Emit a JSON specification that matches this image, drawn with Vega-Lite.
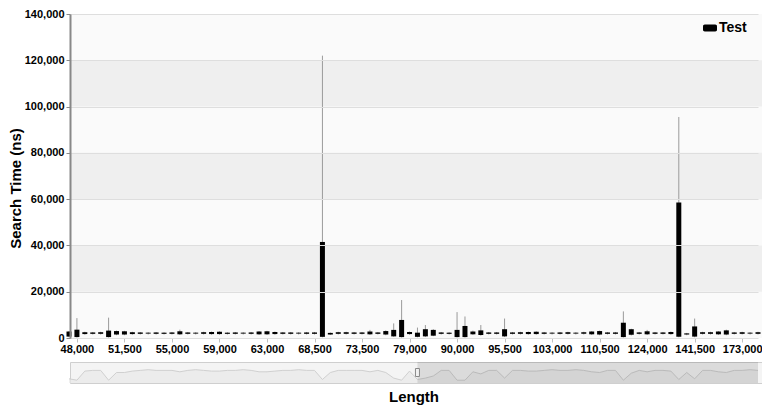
{
  "$schema": "https://vega.github.io/schema/vega-lite/v6.json",
  "background": "white",
  "padding": {"left": 8, "top": 8, "right": 0, "bottom": 0},
  "config": {
    "font": "Liberation Sans",
    "concat": {"spacing": 7}
  },
  "datasets": {
    "candles": [
      {"len": "47,500", "lo": 300, "q1": 600, "q3": 2800, "hi": 3000},
      {"len": "48,000", "lo": 200, "q1": 400, "q3": 3600, "hi": 8600},
      {"len": "48,500", "lo": 1400, "q1": 1700, "q3": 2500, "hi": 2700},
      {"len": "49,000", "lo": 1500, "q1": 1800, "q3": 2400, "hi": 2600},
      {"len": "49,500", "lo": 1500, "q1": 1800, "q3": 2500, "hi": 2700},
      {"len": "50,500", "lo": 200, "q1": 400, "q3": 3200, "hi": 8800},
      {"len": "51,000", "lo": 1200, "q1": 1500, "q3": 3000, "hi": 3200},
      {"len": "51,500", "lo": 1200, "q1": 1500, "q3": 2900, "hi": 3100},
      {"len": "52,000", "lo": 1400, "q1": 1700, "q3": 2500, "hi": 2700},
      {"len": "52,500", "lo": 1500, "q1": 1800, "q3": 2400, "hi": 2600},
      {"len": "53,000", "lo": 1500, "q1": 1900, "q3": 2300, "hi": 2500},
      {"len": "54,000", "lo": 1500, "q1": 1800, "q3": 2400, "hi": 2600},
      {"len": "54,500", "lo": 1500, "q1": 1800, "q3": 2300, "hi": 2500},
      {"len": "55,000", "lo": 1500, "q1": 1800, "q3": 2400, "hi": 2600},
      {"len": "55,500", "lo": 1300, "q1": 1600, "q3": 2900, "hi": 3600},
      {"len": "56,000", "lo": 1500, "q1": 1800, "q3": 2400, "hi": 2600},
      {"len": "57,000", "lo": 1500, "q1": 1900, "q3": 2300, "hi": 2500},
      {"len": "57,500", "lo": 1500, "q1": 1800, "q3": 2500, "hi": 2700},
      {"len": "58,500", "lo": 1400, "q1": 1700, "q3": 2600, "hi": 2800},
      {"len": "59,000", "lo": 1400, "q1": 1700, "q3": 2700, "hi": 2900},
      {"len": "59,500", "lo": 1500, "q1": 1800, "q3": 2300, "hi": 2500},
      {"len": "60,500", "lo": 1500, "q1": 1800, "q3": 2400, "hi": 2600},
      {"len": "61,000", "lo": 1500, "q1": 1900, "q3": 2300, "hi": 2500},
      {"len": "62,000", "lo": 1500, "q1": 1800, "q3": 2400, "hi": 2600},
      {"len": "62,500", "lo": 1300, "q1": 1600, "q3": 2800, "hi": 3000},
      {"len": "63,000", "lo": 1300, "q1": 1600, "q3": 2900, "hi": 3100},
      {"len": "64,000", "lo": 1400, "q1": 1700, "q3": 2600, "hi": 2800},
      {"len": "65,000", "lo": 1500, "q1": 1800, "q3": 2400, "hi": 2600},
      {"len": "66,000", "lo": 1500, "q1": 1800, "q3": 2400, "hi": 2600},
      {"len": "67,000", "lo": 1500, "q1": 1900, "q3": 2300, "hi": 2500},
      {"len": "68,000", "lo": 1500, "q1": 1800, "q3": 2400, "hi": 2600},
      {"len": "68,500", "lo": 1500, "q1": 1800, "q3": 2400, "hi": 2600},
      {"len": "69,500", "lo": 300, "q1": 500, "q3": 41500, "hi": 122000},
      {"len": "70,500", "lo": 1300, "q1": 1500, "q3": 2200, "hi": 2400},
      {"len": "71,500", "lo": 1500, "q1": 1800, "q3": 2500, "hi": 2700},
      {"len": "72,000", "lo": 1500, "q1": 1800, "q3": 2500, "hi": 2700},
      {"len": "73,000", "lo": 1500, "q1": 1800, "q3": 2400, "hi": 2600},
      {"len": "73,500", "lo": 1500, "q1": 1800, "q3": 2400, "hi": 2600},
      {"len": "74,500", "lo": 1300, "q1": 1600, "q3": 2800, "hi": 3500},
      {"len": "75,500", "lo": 1500, "q1": 1800, "q3": 2400, "hi": 2600},
      {"len": "76,500", "lo": 1200, "q1": 1500, "q3": 3000, "hi": 3300},
      {"len": "77,500", "lo": 500, "q1": 700, "q3": 3500, "hi": 6300},
      {"len": "78,500", "lo": 200, "q1": 400, "q3": 7800, "hi": 16400},
      {"len": "79,000", "lo": 1400, "q1": 1700, "q3": 2600, "hi": 2800},
      {"len": "80,500", "lo": 300, "q1": 500, "q3": 2300, "hi": 4500},
      {"len": "82,000", "lo": 400, "q1": 700, "q3": 3800, "hi": 5600},
      {"len": "84,000", "lo": 800, "q1": 1000, "q3": 3500, "hi": 3800},
      {"len": "86,000", "lo": 1500, "q1": 1800, "q3": 2400, "hi": 2600},
      {"len": "88,000", "lo": 1500, "q1": 1800, "q3": 2300, "hi": 2500},
      {"len": "90,000", "lo": 200, "q1": 400, "q3": 3500, "hi": 11200},
      {"len": "91,000", "lo": 200, "q1": 400, "q3": 5200, "hi": 9300},
      {"len": "92,000", "lo": 1300, "q1": 1600, "q3": 2800, "hi": 3200},
      {"len": "93,000", "lo": 1000, "q1": 1300, "q3": 3300, "hi": 5600},
      {"len": "94,000", "lo": 1500, "q1": 1800, "q3": 2400, "hi": 2600},
      {"len": "95,000", "lo": 1500, "q1": 1800, "q3": 2400, "hi": 2600},
      {"len": "95,500", "lo": 400, "q1": 700, "q3": 3800, "hi": 8400},
      {"len": "96,500", "lo": 1500, "q1": 1800, "q3": 2400, "hi": 2600},
      {"len": "98,000", "lo": 1500, "q1": 1800, "q3": 2500, "hi": 2700},
      {"len": "99,500", "lo": 1400, "q1": 1700, "q3": 2600, "hi": 2800},
      {"len": "100,500", "lo": 1400, "q1": 1700, "q3": 2700, "hi": 2900},
      {"len": "102,000", "lo": 1500, "q1": 1800, "q3": 2400, "hi": 2600},
      {"len": "103,000", "lo": 1500, "q1": 1900, "q3": 2300, "hi": 2500},
      {"len": "104,500", "lo": 1500, "q1": 1800, "q3": 2400, "hi": 2600},
      {"len": "106,000", "lo": 1500, "q1": 1800, "q3": 2500, "hi": 2700},
      {"len": "107,500", "lo": 1500, "q1": 1900, "q3": 2300, "hi": 2500},
      {"len": "108,500", "lo": 1500, "q1": 1800, "q3": 2500, "hi": 2700},
      {"len": "109,500", "lo": 1300, "q1": 1600, "q3": 2800, "hi": 3000},
      {"len": "110,500", "lo": 1200, "q1": 1500, "q3": 3000, "hi": 3200},
      {"len": "112,500", "lo": 1500, "q1": 1800, "q3": 2400, "hi": 2600},
      {"len": "115,000", "lo": 1500, "q1": 1800, "q3": 2400, "hi": 2600},
      {"len": "117,500", "lo": 200, "q1": 400, "q3": 6600, "hi": 11500},
      {"len": "120,000", "lo": 1100, "q1": 1400, "q3": 3800, "hi": 4000},
      {"len": "122,000", "lo": 1500, "q1": 1800, "q3": 2400, "hi": 2600},
      {"len": "124,000", "lo": 1300, "q1": 1600, "q3": 2900, "hi": 3500},
      {"len": "127,000", "lo": 1500, "q1": 1800, "q3": 2400, "hi": 2600},
      {"len": "130,000", "lo": 1500, "q1": 1800, "q3": 2400, "hi": 2600},
      {"len": "133,000", "lo": 1400, "q1": 1700, "q3": 2600, "hi": 2800},
      {"len": "136,000", "lo": 300, "q1": 500, "q3": 58500, "hi": 95500},
      {"len": "139,000", "lo": 1200, "q1": 1500, "q3": 2000, "hi": 2200},
      {"len": "141,500", "lo": 300, "q1": 600, "q3": 5000, "hi": 8400},
      {"len": "146,500", "lo": 1500, "q1": 1800, "q3": 2500, "hi": 2700},
      {"len": "152,000", "lo": 1500, "q1": 1800, "q3": 2500, "hi": 2700},
      {"len": "157,500", "lo": 1300, "q1": 1600, "q3": 2800, "hi": 3000},
      {"len": "163,000", "lo": 1200, "q1": 1500, "q3": 3300, "hi": 3600},
      {"len": "168,000", "lo": 1500, "q1": 1800, "q3": 2400, "hi": 2600},
      {"len": "173,000", "lo": 1500, "q1": 1800, "q3": 2500, "hi": 2700},
      {"len": "180,000", "lo": 1500, "q1": 1900, "q3": 2300, "hi": 2500},
      {"len": "190,000", "lo": 1500, "q1": 1800, "q3": 2500, "hi": 2700}
    ],
    "bands": [
      {"b0": 20000, "b1": 40000},
      {"b0": 60000, "b1": 80000},
      {"b0": 100000, "b1": 120000}
    ],
    "selection": [
      {"from": "80,500", "to": "190,000"}
    ]
  },
  "resolve": {"scale": {"x": "independent", "y": "independent"}, "legend": {"color": "independent"}},
  "vconcat": [
    {
      "width": 692,
      "height": 324,
      "view": {"fill": "#fafafa", "stroke": null},
      "layer": [
        {
          "data": {"name": "bands"},
          "mark": {"type": "rect", "fill": "#efefef"},
          "encoding": {
            "y": {"field": "b0", "type": "quantitative"},
            "y2": {"field": "b1"}
          }
        },
        {
          "data": {"name": "candles"},
          "mark": {"type": "rule", "color": "#9a9a9a", "strokeWidth": 1},
          "encoding": {
            "x": {"field": "len", "type": "ordinal", "sort": null},
            "y": {"field": "lo", "type": "quantitative"},
            "y2": {"field": "hi"}
          }
        },
        {
          "data": {"name": "candles"},
          "mark": {"type": "bar", "size": 5},
          "encoding": {
            "x": {
              "field": "len", "type": "ordinal", "sort": null,
              "scale": {"type": "point", "padding": 0, "range": [-1, 688]},
              "axis": {
                "title": null,
                "values": ["48,000", "51,500", "55,000", "59,000", "63,000", "68,500", "73,500", "79,000", "90,000", "95,500", "103,000", "110,500", "124,000", "141,500", "173,000"],
                "labelAngle": 0,
                "labelAlign": "center",
                "labelBaseline": "top",
                "labelFontSize": 11,
                "labelFontWeight": "bold",
                "labelColor": "#000",
                "labelOverlap": false,
                "labelPadding": 1,
                "tickSize": 4,
                "tickColor": "#c0c0c0",
                "domain": false,
                "grid": false
              }
            },
            "y": {
              "field": "q1", "type": "quantitative",
              "scale": {"domain": [0, 140000], "nice": false},
              "axis": {
                "title": "Search Time (ns)",
                "values": [0, 20000, 40000, 60000, 80000, 100000, 120000, 140000],
                "format": ",d",
                "labelFontSize": 11,
                "labelFontWeight": "bold",
                "labelColor": "#000",
                "labelPadding": 2,
                "tickSize": 4,
                "tickColor": "#888",
                "domainColor": "#888",
                "domainWidth": 2,
                "gridColor": "#dedede",
                "zindex": 1,
                "titleFontSize": 15,
                "titleFontWeight": "bold",
                "titleColor": "#000",
                "titlePadding": 1,
                "titleY": 174
              }
            },
            "y2": {"field": "q3"},
            "color": {
              "datum": "Test",
              "scale": {"range": ["#000000"]},
              "legend": {
                "title": null,
                "orient": "none",
                "legendX": 633,
                "legendY": 7,
                "padding": 0,
                "symbolType": "M-0.75,-0.5H0.75A0.25,0.25 0 0 1 1,-0.25V0.25A0.25,0.25 0 0 1 0.75,0.5H-0.75A0.25,0.25 0 0 1 -1,0.25V-0.25A0.25,0.25 0 0 1 -0.75,-0.5Z",
                "symbolSize": 196,
                "symbolStrokeWidth": 0,
                "symbolFillColor": "#000",
                "labelFontSize": 14,
                "labelFontWeight": "bold",
                "labelColor": "#000",
                "labelOffset": 2
              }
            }
          }
        }
      ]
    },
    {
      "width": 692,
      "height": 21,
      "view": {"fill": "#f4f4f4", "stroke": "#cfcfcf"},
      "layer": [
        {
          "data": {"name": "candles"},
          "mark": {"type": "area", "color": "#e8e8e8", "line": {"color": "#d0d0d0", "strokeWidth": 1}},
          "encoding": {
            "x": {
              "field": "len", "type": "ordinal", "sort": null,
              "scale": {"type": "point", "padding": 0, "range": [-1, 688]},
              "axis": {
                "title": "Length",
                "labels": false,
                "ticks": false,
                "domain": false,
                "grid": false,
                "titleFontSize": 15,
                "titleFontWeight": "bold",
                "titleColor": "#000",
                "titlePadding": 6
              }
            },
            "y": {"field": "q1", "type": "quantitative", "scale": {"domain": [0, 3000]}, "axis": null}
          }
        },
        {
          "data": {"name": "selection"},
          "mark": {"type": "rect", "color": "#000", "opacity": 0.1},
          "encoding": {
            "x": {"field": "from", "type": "ordinal", "sort": null},
            "x2": {"field": "to"}
          }
        },
        {
          "data": {"name": "selection"},
          "mark": {"type": "point", "shape": "M-0.5,-1H0.5V1H-0.5Z", "size": 64, "filled": true, "fill": "#f0f0f0", "stroke": "#888", "strokeWidth": 1, "opacity": 1},
          "encoding": {
            "x": {"field": "from", "type": "ordinal", "sort": null}
          }
        }
      ]
    }
  ]
}
